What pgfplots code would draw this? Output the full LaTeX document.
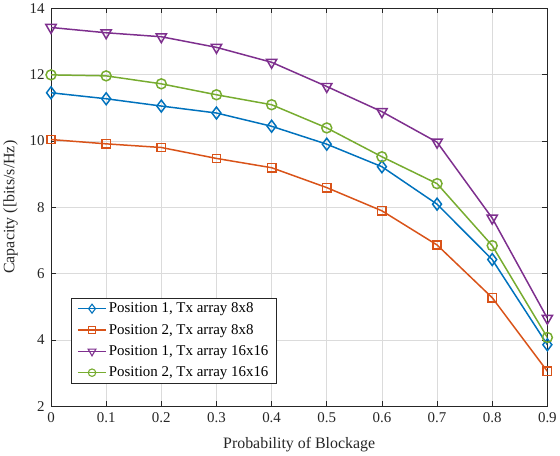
\documentclass[border=0pt]{standalone}
\usepackage{fontspec}
\setmainfont{Liberation Serif}
\usepackage{pgfplots}
\pgfplotsset{compat=1.18}

\definecolor{mblue}{rgb}{0,0.447,0.741}
\definecolor{morange}{rgb}{0.85,0.325,0.098}
\definecolor{mpurple}{rgb}{0.494,0.184,0.556}
\definecolor{mgreen}{rgb}{0.466,0.674,0.188}
\definecolor{axgray}{rgb}{0.15,0.15,0.15}

\begin{document}
\begin{tikzpicture}
\begin{axis}[
    scale only axis,
    width=499pt,
    height=400pt,
    xmin=0, xmax=0.9,
    ymin=2, ymax=14,
    xtick={0,0.1,...,0.9},
    ytick={2,4,6,8,10,12,14},
    xticklabels={0,0.1,0.2,0.3,0.4,0.5,0.6,0.7,0.8,0.9},
    /pgf/number format/assume math mode=true,
    tick label style={font=\fontsize{15}{17}\selectfont, text=axgray},
    xticklabel style={yshift=-3pt},
    yticklabel style={xshift=-3pt},
    label style={font=\fontsize{16}{18}\selectfont, text=axgray},
    xlabel={Probability of Blockage},
    ylabel={Capacity ([bits/s/Hz)},
    xlabel style={yshift=-8pt},
    ylabel style={yshift=5pt},
    axis line style={axgray, line width=0.7pt},
    major tick length=5pt,
    tick style={axgray, line width=0.6pt},
    grid=major,
    major grid style={gray!28, line width=0.6pt},
    every axis plot/.append style={line width=1.5pt},
    legend image code/.code={
        \draw[mark repeat=2, mark phase=2, /tikz/every mark/.append style={scale=0.75, line width=1.1pt}]
            plot coordinates {(0cm,0cm) (0.5cm,0cm) (1cm,0cm)};
    },
    legend style={
        at={(axis cs:0.036,5.27)}, anchor=north west,
        font=\fontsize{15}{17}\selectfont,
        draw=axgray, line width=0.6pt,
        row sep=6pt,
        inner xsep=6pt,
        inner ysep=3pt,
    },
    legend cell align=left,
]

\addplot[color=mblue, mark=diamond, mark size=6pt, mark options={solid}]
coordinates {
    (0,11.45) (0.1,11.27) (0.2,11.05) (0.3,10.84) (0.4,10.44) (0.5,9.90) (0.6,9.22) (0.7,8.09) (0.8,6.42) (0.9,3.85)
};
\addlegendentry{Position 1, Tx array 8x8}

\addplot[color=morange, mark=square, mark size=4.2pt, mark options={solid}]
coordinates {
    (0,10.04) (0.1,9.91) (0.2,9.80) (0.3,9.47) (0.4,9.19) (0.5,8.59) (0.6,7.89) (0.7,6.86) (0.8,5.27) (0.9,3.05)
};
\addlegendentry{Position 2, Tx array 8x8}

\addplot[color=mpurple, mark=triangle, mark size=6pt, mark options={solid, rotate=180}]
coordinates {
    (0,13.42) (0.1,13.26) (0.2,13.14) (0.3,12.82) (0.4,12.37) (0.5,11.64) (0.6,10.88) (0.7,9.96) (0.8,7.67) (0.9,4.65)
};
\addlegendentry{Position 1, Tx array 16x16}

\addplot[color=mgreen, mark=o, mark size=5pt, mark options={solid}]
coordinates {
    (0,11.99) (0.1,11.96) (0.2,11.72) (0.3,11.39) (0.4,11.09) (0.5,10.39) (0.6,9.52) (0.7,8.71) (0.8,6.84) (0.9,4.07)
};
\addlegendentry{Position 2, Tx array 16x16}

\end{axis}
\end{tikzpicture}
\end{document}
